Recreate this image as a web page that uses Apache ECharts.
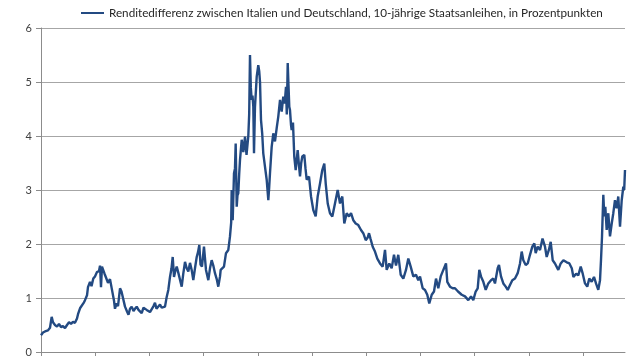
<!DOCTYPE html>
<html>
<head>
<meta charset="utf-8">
<script src="https://cdn.jsdelivr.net/npm/echarts@6/dist/echarts.min.js"></script>
<style>html,body{margin:0;padding:0;background:#fff}#c{width:640px;height:360px}</style>
</head>
<body>
<div id="c"></div>
<script>
const seriesName = 'Renditedifferenz zwischen Italien und Deutschland, 10-jährige Staatsanleihen, in Prozentpunkten';
const yTicks = [0, 1, 2, 3, 4, 5, 6];
const yearTicks = [2008, 2009, 2010, 2011, 2012, 2013, 2014, 2015, 2016, 2017, 2018];
const startYear = 2008;
const endYear = 2018.775;
// time offset in years since start of 2008
const yearOffsets = [
0,0.037,0.074,0.129,0.166,0.197,0.221,0.258,0.295,0.332,0.369,0.406,0.443,0.480,0.517,0.554,0.590,0.627,0.664,0.683,
0.720,0.756,0.793,0.812,0.849,0.867,0.904,0.932,0.965,0.996,1.033,1.070,1.089,1.107,1.125,1.144,1.172,1.199,1.236,1.273,
1.310,1.347,1.365,1.393,1.421,1.458,1.485,1.513,1.550,1.587,1.614,1.642,1.673,1.707,1.734,1.766,1.799,1.827,1.858,1.891,
1.919,1.950,1.983,2.011,2.042,2.076,2.103,2.131,2.164,2.196,2.227,2.256,2.288,2.319,2.349,2.380,2.408,2.430,2.454,2.478,
2.504,2.533,2.565,2.596,2.625,2.657,2.688,2.718,2.749,2.780,2.810,2.841,2.873,2.897,2.921,2.943,2.970,3.007,3.044,3.087,
3.118,3.149,3.179,3.210,3.242,3.271,3.303,3.315,3.349,3.376,3.413,3.456,3.487,3.509,3.518,3.537,3.561,3.579,3.592,3.611,
3.625,3.640,3.657,3.672,3.703,3.733,3.764,3.792,3.825,3.841,3.856,3.871,3.887,3.902,3.917,3.930,3.948,3.980,4.009,4.026,
4.041,4.059,4.081,4.101,4.133,4.164,4.179,4.194,4.210,4.225,4.256,4.286,4.317,4.349,4.378,4.410,4.441,4.470,4.496,4.520,
4.535,4.552,4.566,4.581,4.594,4.613,4.625,4.649,4.673,4.699,4.736,4.760,4.779,4.801,4.821,4.858,4.880,4.902,4.945,4.982,
5.024,5.068,5.105,5.148,5.190,5.227,5.253,5.290,5.332,5.375,5.424,5.474,5.517,5.559,5.596,5.640,5.683,5.720,5.762,5.806,
5.854,5.904,5.946,5.991,6.028,6.052,6.079,6.120,6.162,6.205,6.255,6.304,6.347,6.378,6.426,6.470,6.513,6.550,6.592,6.637,
6.685,6.734,6.777,6.821,6.869,6.919,6.961,6.993,7.042,7.085,7.127,7.164,7.209,7.251,7.288,7.330,7.375,7.423,7.472,7.496,
7.546,7.596,7.638,7.694,7.762,7.823,7.884,7.934,7.976,8.020,8.057,8.087,8.118,8.161,8.205,8.253,8.303,8.345,8.376,8.426,
8.450,8.487,8.530,8.574,8.611,8.653,8.696,8.745,8.795,8.838,8.869,8.899,8.943,8.980,9.022,9.065,9.102,9.127,9.164,9.207,
9.253,9.299,9.330,9.373,9.404,9.441,9.483,9.544,9.589,9.638,9.700,9.749,9.793,9.823,9.873,9.913,9.958,9.995,10.037,10.079,
10.116,10.160,10.203,10.240,10.282,10.314,10.332,10.351,10.375,10.393,10.412,10.437,10.467,10.498,10.530,10.559,10.590,10.622,10.651,10.683,
10.714,10.744,10.760,10.775
];
const spreadValues = [
0.31,0.36,0.38,0.40,0.45,0.65,0.55,0.50,0.47,0.52,0.46,0.48,0.44,0.50,0.55,0.52,0.56,0.54,0.62,0.70,
0.81,0.78,0.92,0.96,1.05,1.20,1.30,1.22,1.36,1.40,1.48,1.50,1.60,1.20,1.58,1.55,1.45,1.38,1.28,1.35,
1.15,0.95,0.80,0.90,0.85,1.18,1.12,1.15,0.84,0.75,0.69,0.80,0.84,0.76,0.80,0.84,0.78,0.76,0.72,0.82,
0.84,0.78,0.76,0.74,0.72,0.85,0.91,0.80,0.78,0.88,0.82,0.80,0.84,1.02,1.15,1.39,1.55,1.76,1.39,1.50,
1.58,1.47,1.45,1.21,1.45,1.67,1.55,1.49,1.65,1.52,1.33,1.55,1.76,1.85,1.98,1.62,1.58,1.95,1.52,1.33,
1.55,1.70,1.60,1.46,1.35,1.21,1.40,1.52,1.55,1.58,1.83,1.89,2.14,2.40,3.00,2.44,3.31,3.40,3.86,2.69,
2.90,2.94,3.30,3.56,3.93,3.70,3.99,3.65,4.00,4.40,5.50,4.90,4.67,4.75,4.55,3.68,4.54,5.10,5.31,5.20,
5.00,4.30,4.05,3.68,3.43,3.19,3.00,2.81,3.05,3.31,3.80,4.05,3.90,4.15,4.36,4.67,4.45,4.73,4.60,4.91,
4.40,5.35,4.95,4.54,4.48,4.20,4.11,4.25,3.62,3.37,3.74,3.45,3.25,3.50,3.62,3.65,3.40,3.19,3.25,2.88,
2.63,2.51,2.88,3.12,3.37,3.49,3.12,2.75,2.57,2.51,2.75,3.00,2.75,2.88,2.38,2.57,2.51,2.57,2.44,2.38,
2.35,2.26,2.20,2.07,2.12,2.20,2.10,1.95,1.86,1.73,1.64,1.58,1.89,1.52,1.64,1.55,1.80,1.60,1.80,1.43,
1.36,1.52,1.73,1.58,1.40,1.43,1.33,1.40,1.18,1.15,1.06,0.90,1.06,1.12,1.36,1.18,1.40,1.52,1.64,1.30,
1.21,1.18,1.18,1.12,1.06,1.03,0.96,1.03,0.96,1.12,1.18,1.52,1.40,1.30,1.15,1.27,1.33,1.36,1.27,1.55,
1.61,1.40,1.27,1.21,1.15,1.24,1.33,1.36,1.46,1.64,1.86,1.70,1.61,1.64,1.80,1.95,2.01,1.83,1.95,1.89,
2.10,1.95,1.76,1.90,2.04,1.70,1.64,1.52,1.64,1.70,1.66,1.64,1.55,1.39,1.45,1.42,1.58,1.45,1.27,1.21,
1.36,1.30,1.39,1.27,1.15,1.33,1.70,2.14,2.91,2.51,2.69,2.26,2.57,2.14,2.38,2.57,2.81,2.66,2.88,2.32,
2.81,3.06,3.00,3.37
];

const data = yearOffsets.map((o, i) => [startYear + o, spreadValues[i]]);

const chart = echarts.init(document.getElementById('c'), null, {renderer: 'canvas'});
chart.setOption({
  animation: false,
  backgroundColor: '#ffffff',
  textStyle: {fontFamily: 'Lato'},
  legend: {
    show: true,
    top: 2,
    left: 76,
    icon: 'rect',
    itemWidth: 23,
    itemHeight: 2,
    textStyle: {fontFamily: 'Lato', fontSize: 11.7, color: '#262626'},
    data: [seriesName]
  },
  grid: {left: 41, right: 15, top: 28, bottom: 8, containLabel: false},
  xAxis: {
    type: 'value',
    min: startYear,
    max: endYear,
    interval: 1,
    axisLine: {show: true, lineStyle: {color: '#8c8c8c', width: 1}},
    axisTick: {show: true, length: 4, inside: false, customValues: yearTicks, lineStyle: {color: '#8c8c8c'}},
    axisLabel: {show: false},
    splitLine: {show: false}
  },
  yAxis: {
    type: 'value',
    min: yTicks[0],
    max: yTicks[yTicks.length - 1],
    interval: 1,
    axisLine: {show: true, lineStyle: {color: '#8c8c8c', width: 1}},
    axisTick: {show: true, length: 5, lineStyle: {color: '#8c8c8c'}},
    axisLabel: {fontFamily: 'Lato', fontSize: 11, color: '#404040', margin: 9},
    splitLine: {show: true, lineStyle: {color: '#a6a6a6', width: 1}}
  },
  series: [{
    name: seriesName,
    type: 'line',
    data: data,
    showSymbol: false,
    symbol: 'none',
    lineStyle: {color: '#234a82', width: 2.4},
    itemStyle: {color: '#234a82'}
  }]
});
</script>
</body>
</html>
